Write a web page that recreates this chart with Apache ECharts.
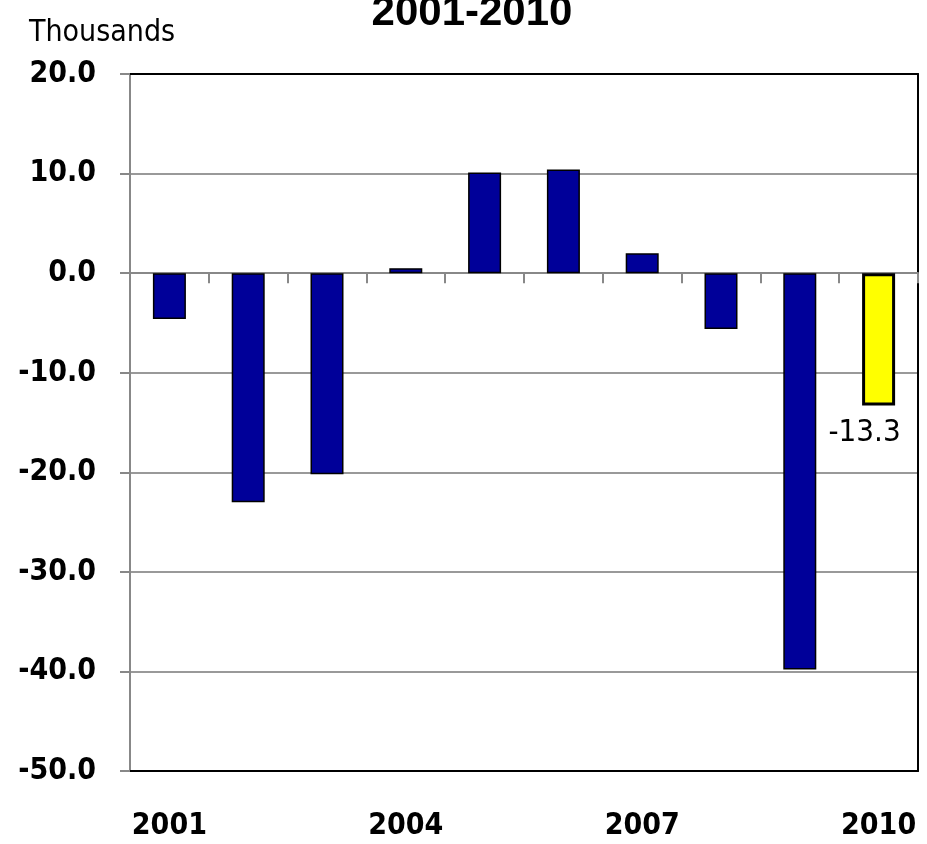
<!DOCTYPE html>
<html>
<head>
<meta charset="utf-8">
<script src="https://cdn.jsdelivr.net/npm/echarts@6/dist/echarts.min.js"></script>
<style>
html,body{margin:0;padding:0;background:#fff;}
#chart{width:927px;height:844px;}
</style>
</head>
<body>
<div id="chart"></div>
<script>
var categories = ['2001','2002','2003','2004','2005','2006','2007','2008','2009','2010'];
var values = [-4.6, -23.0, -20.2, 0.5, 10.1, 10.4, 2.0, -5.6, -39.8, -13.3];
var highlightIndex = 9;
var yMin = -50, yMax = 20, yStep = 10;
var titleText = '2001-2010';
var unitText = 'Thousands';

var NARROW = '"Liberation Sans Narrow", "Arial Narrow", "DejaVu Sans Condensed", sans-serif';

var barData = values.map(function (v, i) {
  if (i === highlightIndex) {
    return {
      value: v,
      itemStyle: {color: '#ffff00', borderColor: '#000', borderWidth: 3},
      label: {
        show: true, position: 'bottom', distance: 12, offset: [-14, 0],
        formatter: function (p) { return p.value.toFixed(1); },
        fontFamily: NARROW, fontSize: 31, color: '#000'
      }
    };
  }
  return {value: v};
});

var chart = echarts.init(document.getElementById('chart'));
chart.setOption({
  animation: false,
  backgroundColor: '#fff',
  title: [
    {text: titleText, left: 467, textAlign: 'center', top: -13,
     textStyle: {fontFamily: '"Liberation Sans", Arial, sans-serif', fontWeight: 'bold', fontSize: 42, color: '#000'}},
    {text: unitText, left: 24, top: 13,
     textStyle: {fontFamily: NARROW, fontWeight: 'normal', fontSize: 30, color: '#000'}}
  ],
  grid: {left: 130, right: 9, top: 74, bottom: 73, containLabel: false},
  xAxis: [
    {type: 'category', data: categories, position: 'bottom',
     axisLine: {onZero: true, lineStyle: {color: '#888', width: 2}},
     axisTick: {show: true, length: 10, lineStyle: {color: '#888', width: 2}},
     axisLabel: {show: false}, splitLine: {show: false}},
    {type: 'category', data: categories, position: 'bottom',
     axisLine: {onZero: false, lineStyle: {color: '#000', width: 2}},
     axisTick: {show: false},
     axisLabel: {show: true, interval: 2, margin: 40, fontFamily: NARROW, fontWeight: 'bold', fontSize: 30, color: '#000'},
     splitLine: {show: false}},
    {type: 'category', data: categories, position: 'top',
     axisLine: {onZero: false, lineStyle: {color: '#000', width: 2}},
     axisTick: {show: false}, axisLabel: {show: false}, splitLine: {show: false}}
  ],
  yAxis: [
    {type: 'value', min: yMin, max: yMax, interval: yStep, position: 'left',
     axisLine: {show: true, onZero: false, lineStyle: {color: '#888', width: 2}},
     axisTick: {show: true, length: 10, lineStyle: {color: '#888', width: 2}},
     axisLabel: {margin: 34, fontFamily: NARROW, fontWeight: 'bold', fontSize: 30, color: '#000',
       formatter: function (v) { return v.toFixed(1); }},
     splitLine: {show: true, lineStyle: {color: '#999', width: 2}}},
    {type: 'value', min: yMin, max: yMax, interval: yStep, position: 'right',
     axisLine: {show: true, onZero: false, lineStyle: {color: '#000', width: 2}},
     axisTick: {show: false}, axisLabel: {show: false}, splitLine: {show: false}}
  ],
  series: [{
    type: 'bar', xAxisIndex: 0, yAxisIndex: 0,
    data: barData, barWidth: 33,
    itemStyle: {color: '#000099', borderColor: '#000', borderWidth: 1.5}
  }]
});
</script>
</body>
</html>
